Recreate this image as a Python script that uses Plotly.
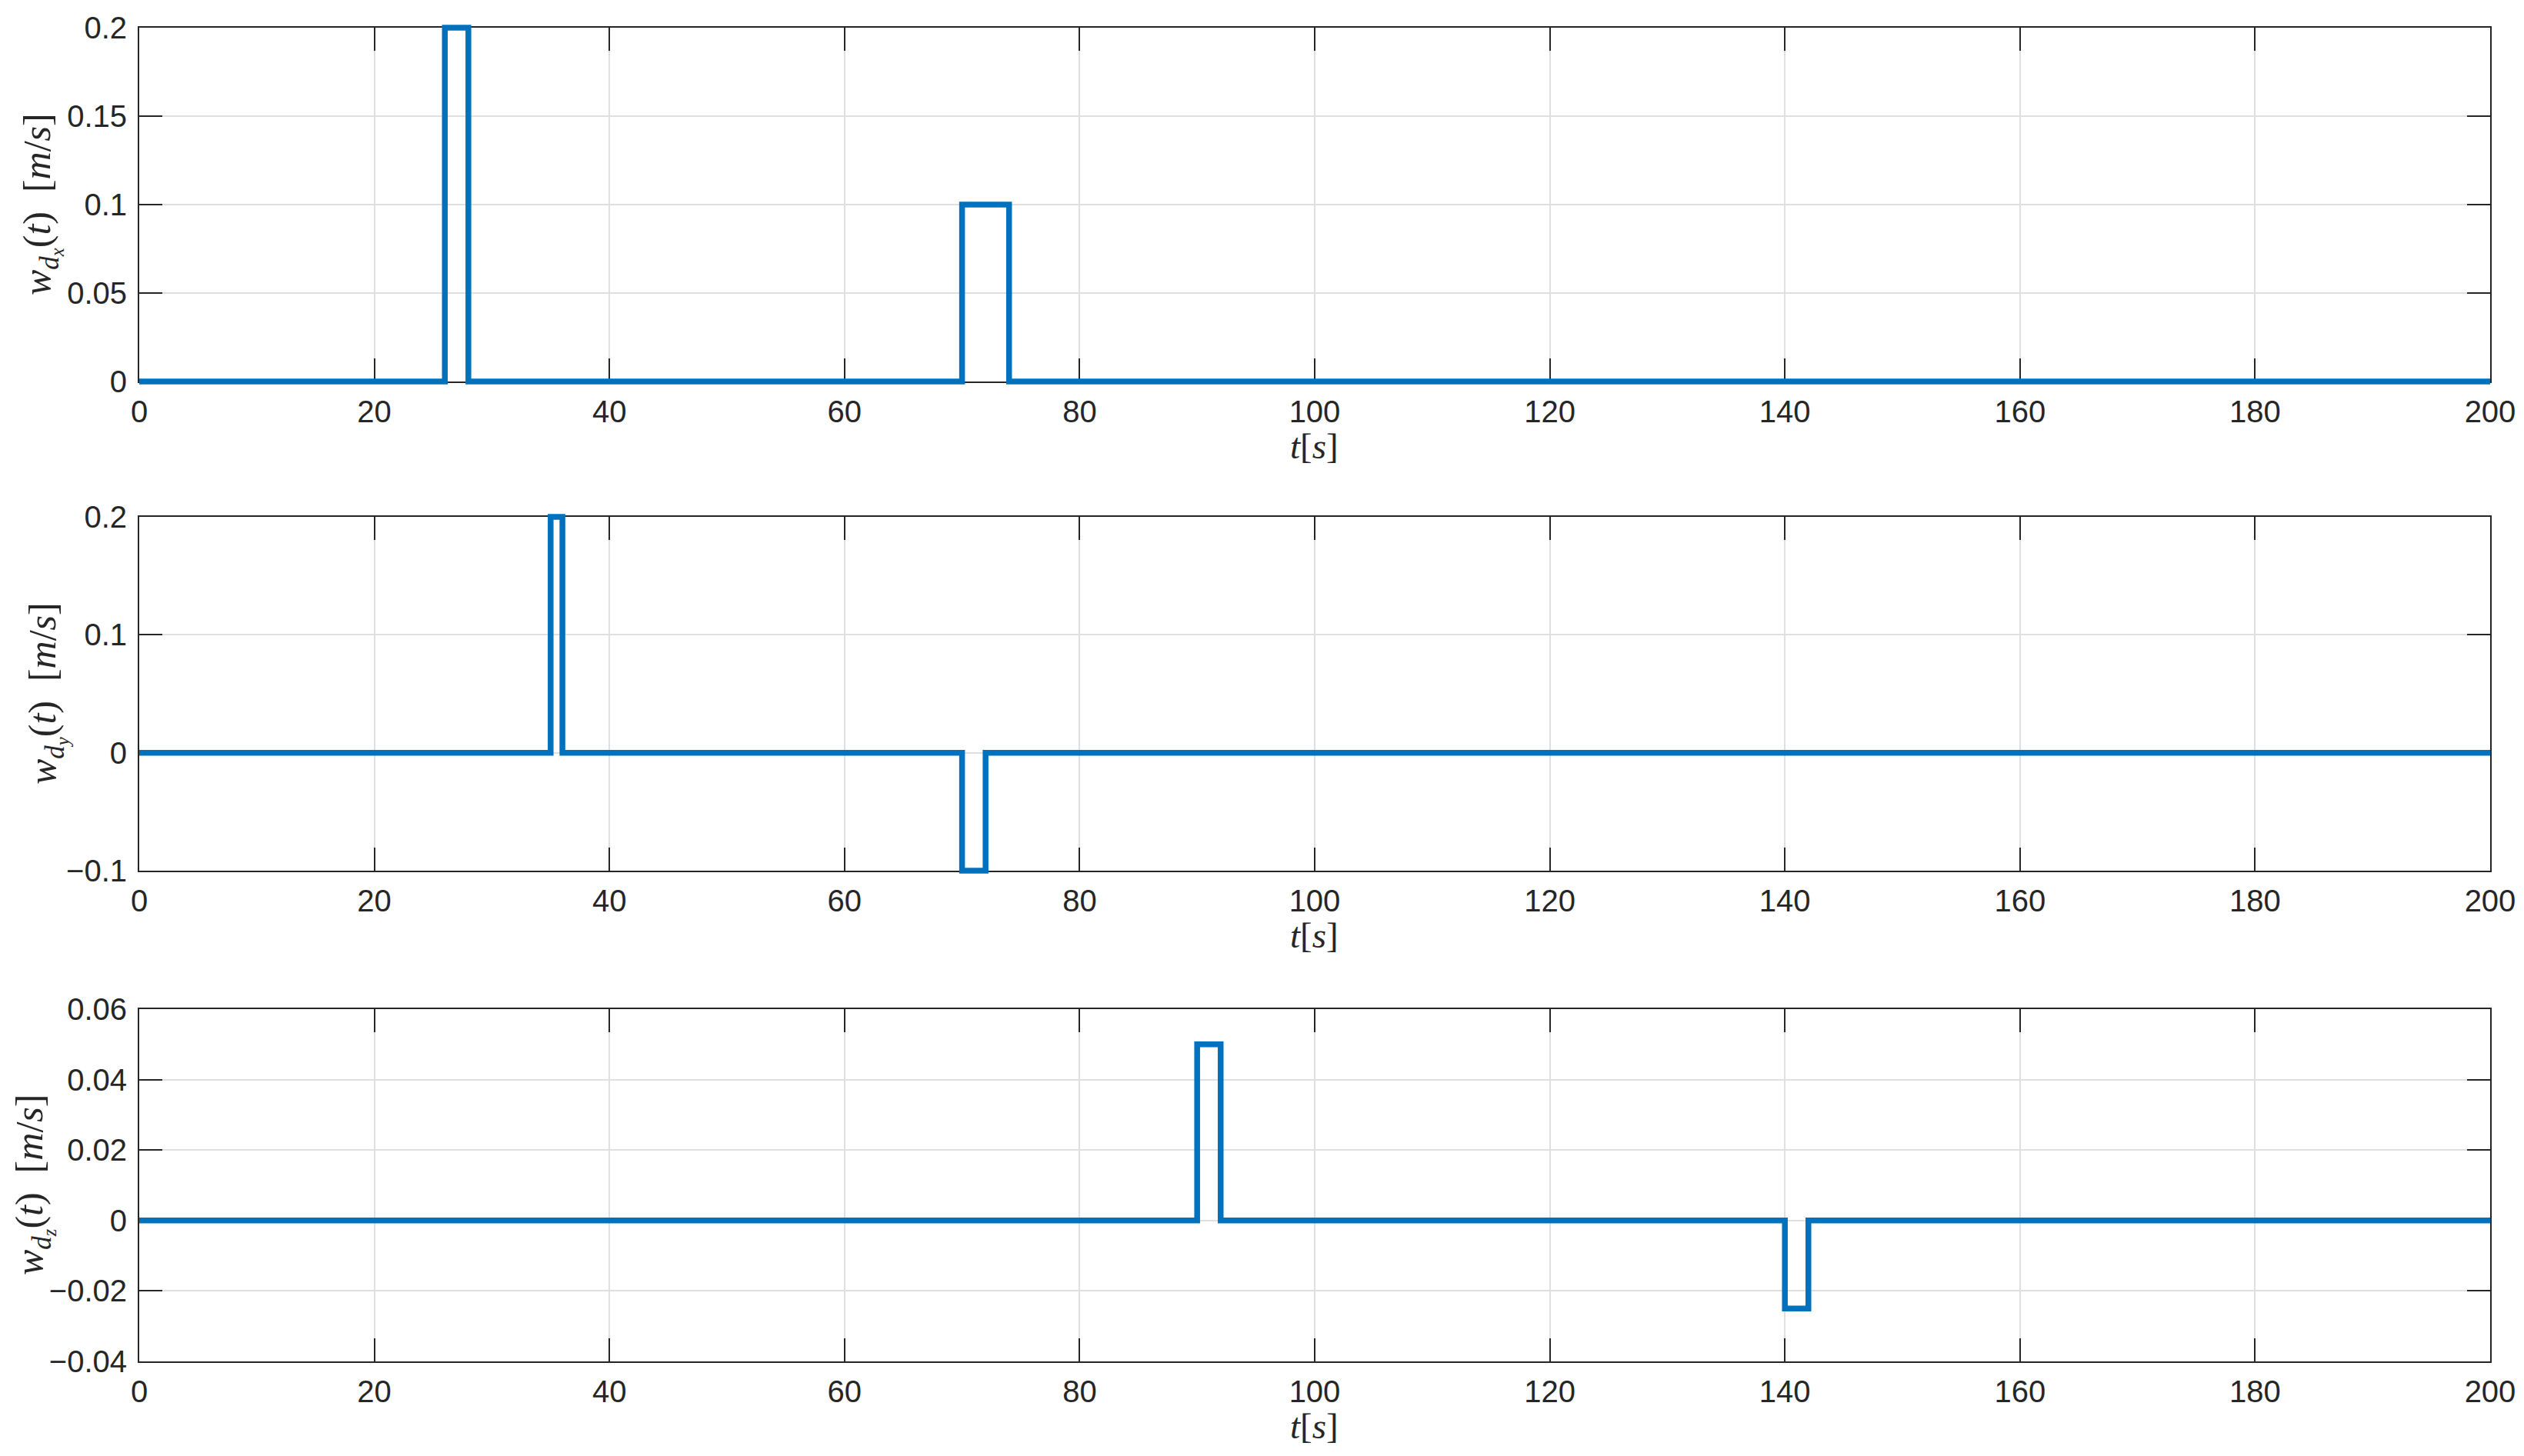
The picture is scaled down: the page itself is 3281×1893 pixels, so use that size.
import plotly.graph_objects as go

# step data (hv steps): time breakpoints and values
t_x = [0, 26, 28, 70, 74, 200]
w_x = [0, 0.2, 0, 0.1, 0, 0]
t_y = [0, 35, 36, 70, 72, 200]
w_y = [0, 0.2, 0, -0.1, 0, 0]
t_z = [0, 90, 92, 140, 142, 200]
w_z = [0, 0.05, 0, -0.025, 0, 0]

y_ranges = [(0, 0.2), (-0.1, 0.2), (-0.04, 0.06)]
y_dticks = [0.05, 0.1, 0.02]
sp = "\u2002"
y_titles = [
    f"<i>w<sub>d<sub>x</sub></sub></i>(<i>t</i>){sp}[<i>m</i>/<i>s</i>]",
    f"<i>w<sub>d<sub>y</sub></sub></i>(<i>t</i>){sp}[<i>m</i>/<i>s</i>]",
    f"<i>w<sub>d<sub>z</sub></sub></i>(<i>t</i>){sp}[<i>m</i>/<i>s</i>]",
]
x_title = "<i>t</i>[<i>s</i>]"

# page body has an 8px margin, so the figure is drawn 8px in from the window edge
OFF = 8
W, H = 3281 - 2 * OFF, 1893 - 2 * OFF
left_px, right_px = 181 - OFF, 3237 - OFF
panels_px = [(36 - OFF, 496 - OFF), (672 - OFF, 1132 - OFF), (1312 - OFF, 1770 - OFF)]
ylab_x_px = [54 - OFF, 61 - OFF, 44 - OFF]
pad = 12  # px of extra clip room for the data subplot

blue = "#0072BD"
dark = "#262626"
tick_font = dict(family="Liberation Sans, Arial", size=40, color=dark)
ytitle_font = dict(family="Liberation Serif, DejaVu Serif", size=50, color=dark)
xtitle_font = dict(family="Liberation Serif, DejaVu Serif", size=47, color=dark)

fig = go.Figure()
series = [(t_x, w_x), (t_y, w_y), (t_z, w_z)]
annotations = []
xd = [left_px / W, right_px / W]
axis_style = dict(showgrid=True, gridcolor="#dfdfdf", gridwidth=2,
                  showline=True, linecolor=dark, linewidth=2, mirror="ticks",
                  ticks="inside", ticklen=30, tickwidth=2, tickcolor=dark,
                  tickfont=tick_font, zeroline=False, layer="below traces",
                  automargin=False)

for i, ((top, bot), (lo, hi), dt, (tt, ww)) in enumerate(zip(panels_px, y_ranges, y_dticks, series)):
    n = i + 1
    d0, d1 = 1 - bot / H, 1 - top / H
    # visible frame axes
    fig.update_layout(**{
        f"xaxis{n}": dict(domain=xd, anchor=f"y{n}", range=[0, 200], dtick=20,
                         ticklabelstandoff=3, **axis_style),
        f"yaxis{n}": dict(domain=[d0, d1], anchor=f"x{n}", range=[lo, hi], dtick=dt,
                         ticklabelstandoff=6, **axis_style),
    })
    fig.add_trace(go.Scatter(x=[None], y=[None], xaxis=f"x{n}", yaxis=f"y{n}",
                             showlegend=False, hoverinfo="skip"))
    # hidden data axes with a slightly larger clip box so edge lines are not cut
    m = n + 3
    h_px = bot - top
    ext = (hi - lo) * pad / h_px
    fig.update_layout(**{
        f"xaxis{m}": dict(domain=xd, anchor=f"y{m}", range=[0, 200], visible=False, automargin=False),
        f"yaxis{m}": dict(domain=[d0 - pad / H, d1 + pad / H], anchor=f"x{m}",
                         range=[lo - ext, hi + ext], visible=False, automargin=False),
    })
    fig.add_trace(go.Scatter(x=tt, y=ww, mode="lines", line_shape="hv",
                             line=dict(color=blue, width=7.5),
                             xaxis=f"x{m}", yaxis=f"y{m}", showlegend=False))
    annotations.append(dict(text=y_titles[i], x=ylab_x_px[i] / W, y=1 - (top + bot) / 2 / H,
                            xref="paper", yref="paper", textangle=-90, showarrow=False,
                            font=ytitle_font, xanchor="center", yanchor="middle"))
    annotations.append(dict(text=x_title, x=(left_px + right_px) / 2 / W, y=1 - (bot + 84) / H,
                            xref="paper", yref="paper", showarrow=False,
                            font=xtitle_font, xanchor="center", yanchor="middle"))

fig.update_layout(width=W, height=H, margin=dict(l=0, r=0, t=0, b=0),
                  paper_bgcolor="white", plot_bgcolor="rgba(0,0,0,0)",
                  annotations=annotations, showlegend=False)

fig.write_html("out.html")
